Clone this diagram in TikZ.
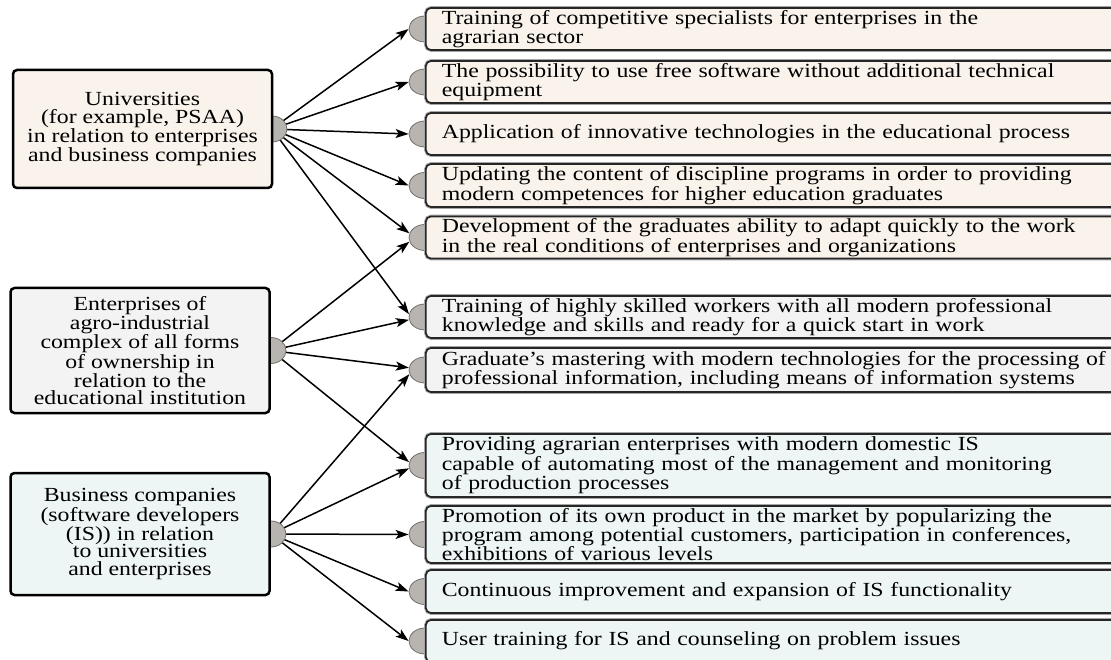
\documentclass[tikz,border=0pt]{standalone}
\usepackage{fontspec}
\setmainfont[FakeStretch=1.19]{Liberation Serif}
\usetikzlibrary{shapes.geometric,arrows.meta}
\pgfdeclarelayer{back}
\pgfdeclarelayer{bg}
\pgfsetlayers{back,bg,main}
\definecolor{beige}{RGB}{249,243,235}
\definecolor{lgray}{RGB}{243,243,243}
\definecolor{lcyan}{RGB}{238,246,245}
\definecolor{knobfill}{RGB}{184,180,175}
\definecolor{knobedge}{RGB}{115,112,108}
\begin{document}
\begin{tikzpicture}[x=1pt,y=-1pt,
  src/.style={draw=black, line width=2.5pt, rounded corners=4pt, align=center,
    font=\fontsize{20}{17.5}\selectfont, inner sep=0pt, minimum width=259pt},
  item/.style={draw=black!85, line width=1.7pt, rounded corners=5pt, anchor=west,
    preaction={draw=black!35, line width=3.6pt},
    align=left, text width=730pt, inner xsep=16pt, inner ysep=0pt,
    font=\fontsize{20}{17.5}\selectfont, minimum height=42pt},
  knob/.style={ellipse, draw=knobedge, fill=knobfill, line width=0.8pt,
    minimum width=32pt, minimum height=26pt, inner sep=0pt},
  link/.style={line width=1.5pt, -{Stealth[length=13pt,width=9pt,inset=3pt]}}
]
\useasboundingbox (0,0) rectangle (1111,660);
\clip (0,0) rectangle (1111,660);
\begin{pgfonlayer}{back}
\fill[white] (0,0) rectangle (1111,660);
\end{pgfonlayer}

% knobs of the sources
\node[knob, minimum width=30pt] (s1) at (272,129) {};
\node[knob, minimum width=30pt] (s2) at (271,350.5) {};
\node[knob, minimum width=30pt] (s3) at (271,534) {};

% source boxes
\node[src, fill=beige, minimum height=118pt] (u) at (142.5,129)
  {Universities\\(for example, PSAA)\\in relation to enterprises\\and business companies};
\node[src, fill=lgray, minimum height=125pt] (e) at (140,350.5)
  {Enterprises of\\agro-industrial\\complex of all forms\\of ownership in\\relation to the\\educational institution};
\node[src, fill=lcyan, minimum height=122pt] (b) at (140,534)
  {Business companies\\(software developers\\(IS)) in relation\\to universities\\and enterprises};

% knobs of the items
\foreach \i/\y in {1/29,2/82,3/134,4/185.5,5/237.5,6/317,7/370,8/465.5,9/534.5,10/591.5,11/641}
  \node[knob] (k\i) at (425,\y) {};

% item boxes
\node[item, fill=beige] (r1) at (425,29)
  {Training of competitive specialists for enterprises in the\\agrarian sector};
\node[item, fill=beige] (r2) at (425,82)
  {The possibility to use free software without additional technical\\equipment};
\node[item, fill=beige] (r3) at (425,134)
  {Application of innovative technologies in the educational process};
\node[item, fill=beige, minimum height=43pt] (r4) at (425,185.5)
  {Updating the content of discipline programs in order to providing\\modern competences for higher education graduates};
\node[item, fill=beige] (r5) at (425,237.5)
  {Development of the graduates ability to adapt quickly to the work\\in the real conditions of enterprises and organizations};
\node[item, fill=lgray] (r6) at (425,317)
  {Training of highly skilled workers with all modern professional\\knowledge and skills and ready for a quick start in work};
\node[item, fill=lgray, minimum height=44pt] (r7) at (425,370)
  {Graduate's mastering with modern technologies for the processing of\\professional information, including means of information systems};
\node[item, fill=lcyan, minimum height=63pt] (r8) at (425,465.5)
  {Providing agrarian enterprises with modern domestic IS\\capable of automating most of the management and monitoring\\of production processes};
\node[item, fill=lcyan, minimum height=57pt] (r9) at (425,534.5)
  {Promotion of its own product in the market by popularizing the\\program among potential customers, participation in conferences,\\exhibitions of various levels};
\node[item, fill=lcyan, minimum height=43pt] (r10) at (425,591.5)
  {Continuous improvement and expansion of IS functionality};
\node[item, fill=lcyan] (r11) at (425,641)
  {User training for IS and counseling on problem issues};

% connectors
\begin{pgfonlayer}{bg}
\draw[link] (s1.center) -- (k1.west);
\draw[link] (s1.center) -- (k2.west);
\draw[link] (s1.center) -- (k3.west);
\draw[link] (s1.center) -- (k4.west);
\draw[link] (s1.center) -- (k5.165);
\draw[link] (s1.center) -- (k6.170);
\draw[link] (s2.center) -- (k5.195);
\draw[link] (s2.center) -- (k6.190);
\draw[link] (s2.center) -- (k7.172);
\draw[link] (s2.center) -- (k8.168);
\draw[link] (s3.center) -- (k7.195);
\draw[link] (s3.center) -- (k8.190);
\draw[link] (s3.center) -- (k9.west);
\draw[link] (s3.center) -- (k10.west);
\draw[link] (s3.center) -- (k11.west);
\end{pgfonlayer}
\end{tikzpicture}
\end{document}
